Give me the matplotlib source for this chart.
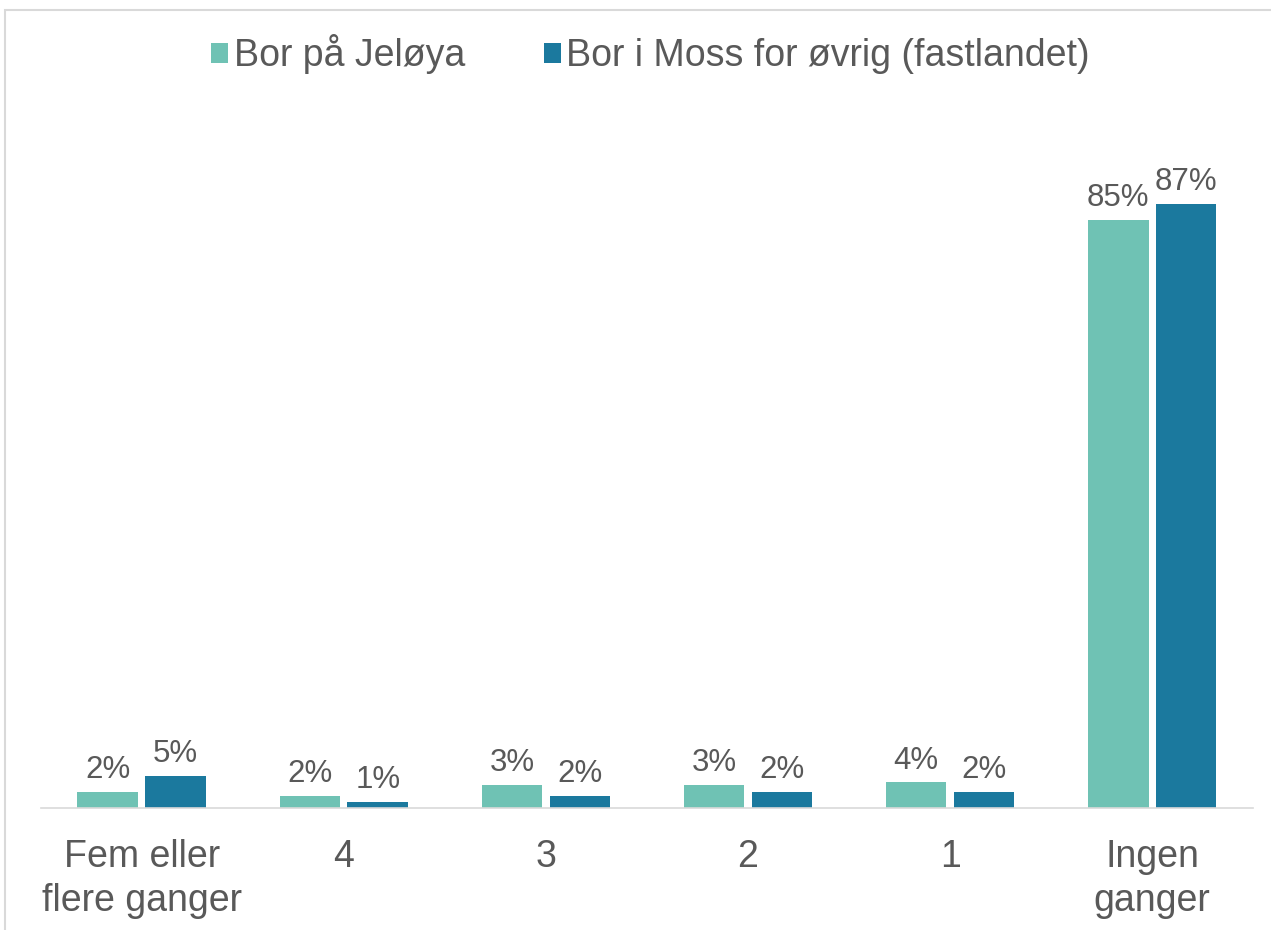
import matplotlib
matplotlib.use("Agg")
import matplotlib.pyplot as plt
import numpy as np
from matplotlib.patches import Rectangle

# data (labels are rounded in the chart)
categories = ["Fem eller\nflere ganger", "4", "3", "2", "1", "Ingen\nganger"]
jeloya = [2.3, 1.7, 3.3, 3.3, 3.7, 84.7]
moss = [4.7, 0.9, 1.7, 2.3, 2.3, 87.0]
series_names = ["Bor på Jeløya", "Bor i Moss for øvrig (fastlandet)"]

C_JEL, C_MOSS = "#6fc2b4", "#1b799e"
TXT = "#595959"

plt.rcParams["font.family"] = ["Liberation Sans", "DejaVu Sans"]

fig = plt.figure(figsize=(12.71, 9.30), dpi=100)
ax = fig.add_axes([0.032, 0.131, 0.954, 0.747])

x = np.arange(len(categories))
w = 0.30
gap = 0.018
b1 = ax.bar(x - w/2 - gap, jeloya, w, color=C_JEL, label=series_names[0])
b2 = ax.bar(x + w/2 + gap, moss, w, color=C_MOSS, label=series_names[1])

for bars, vals in ((b1, jeloya), (b2, moss)):
    for r, v in zip(bars, vals):
        ax.annotate(f"{v:.0f}%", xy=(r.get_x() + r.get_width()/2, v),
                    xytext=(0, 5), textcoords="offset points",
                    ha="center", va="bottom", fontsize=22.5, color=TXT)

ax.set_xlim(-0.5, 5.5)
ax.set_ylim(0, 100)
ax.set_yticks([])
ax.set_xticks(x)
ax.set_xticklabels(categories, fontsize=27, color=TXT, linespacing=1.3)
ax.tick_params(axis="x", length=0, pad=22)
for s in ("top", "right", "left"):
    ax.spines[s].set_visible(False)
ax.spines["bottom"].set_color("#d9d9d9")
ax.spines["bottom"].set_linewidth(1.2)

fig.legend(handles=[b1, b2], loc="center", bbox_to_anchor=(0.512, 0.942),
           ncol=2, frameon=False, fontsize=27, handlelength=0.45,
           handleheight=0.45, handletextpad=0.15, columnspacing=2.1,
           labelcolor=TXT)

# light chart frame
fig.patches.append(Rectangle((0.004, -0.01), 1.0, 0.999, transform=fig.transFigure,
                             fill=False, edgecolor="#d9d9d9", lw=1.5))

fig.savefig("out.png", dpi=100)
